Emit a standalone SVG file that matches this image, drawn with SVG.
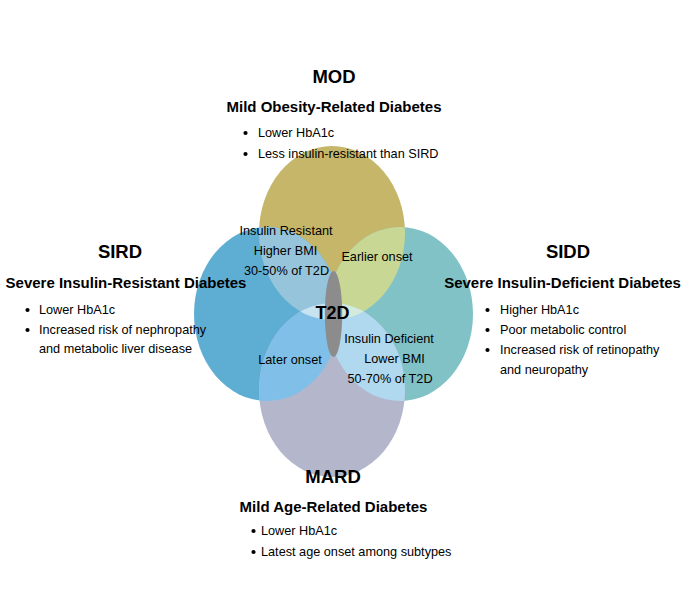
<svg xmlns="http://www.w3.org/2000/svg" width="690" height="598" viewBox="0 0 690 598">
<style>
text{font-family:"Liberation Sans",Arial,sans-serif;fill:#000}
.t{font-size:18.5px;font-weight:bold;text-anchor:middle}
.s{font-size:15px;font-weight:bold;text-anchor:middle}
.b{font-size:12.7px}
.l{font-size:12.7px;text-anchor:middle}
.c{font-size:18px;font-weight:bold;text-anchor:middle}
.dot{fill:#000}
</style>
<defs>
<clipPath id="cMOD"><ellipse cx="332" cy="233" rx="73" ry="87"/></clipPath>
<clipPath id="cSIRD"><ellipse cx="267" cy="314" rx="73" ry="87"/></clipPath>
<clipPath id="cSIDD"><ellipse cx="400" cy="314" rx="73" ry="87"/></clipPath>
<clipPath id="cMARD"><ellipse cx="332" cy="390" rx="73" ry="87"/></clipPath>
</defs>
<rect width="690" height="598" fill="#fff"/>
<g id="MOD">
<ellipse cx="332" cy="233" rx="73" ry="87" fill="#c6b66a"/>
<text class="t" x="334" y="83">MOD</text>
<text class="s" x="334" y="112">Mild Obesity-Related Diabetes</text>
<circle class="dot" cx="245.5" cy="133" r="2.1"/>
<text class="b" x="258" y="137">Lower HbA1c</text>
<circle class="dot" cx="245.5" cy="154" r="2.1"/>
<text class="b" x="258" y="158">Less insulin-resistant than SIRD</text>
</g>
<g id="SIRD">
<ellipse cx="267" cy="314" rx="73" ry="87" fill="#5eaed4"/>
<text class="t" x="120" y="258">SIRD</text>
<text class="s" x="126" y="288">Severe Insulin-Resistant Diabetes</text>
<circle class="dot" cx="27.5" cy="310" r="2.1"/>
<text class="b" x="39" y="314">Lower HbA1c</text>
<circle class="dot" cx="27.5" cy="330" r="2.1"/>
<text class="b" x="39" y="334">Increased risk of nephropathy</text>
<text class="b" x="39" y="353">and metabolic liver disease</text>
</g>
<g id="SIDD">
<ellipse cx="400" cy="314" rx="73" ry="87" fill="#80c2c6"/>
<text class="t" x="568" y="258">SIDD</text>
<text class="s" x="562.5" y="288">Severe Insulin-Deficient Diabetes</text>
<circle class="dot" cx="487.5" cy="310" r="2.1"/>
<text class="b" x="500" y="314">Higher HbA1c</text>
<circle class="dot" cx="487.5" cy="330" r="2.1"/>
<text class="b" x="500" y="334">Poor metabolic control</text>
<circle class="dot" cx="487.5" cy="350" r="2.1"/>
<text class="b" x="500" y="354">Increased risk of retinopathy</text>
<text class="b" x="500" y="374">and neuropathy</text>
</g>
<g id="MARD">
<ellipse cx="332" cy="390" rx="73" ry="87" fill="#b4b6cc"/>
<text class="t" x="333" y="483">MARD</text>
<text class="s" x="333.5" y="512">Mild Age-Related Diabetes</text>
<circle class="dot" cx="253.5" cy="531" r="2.1"/>
<text class="b" x="261" y="535">Lower HbA1c</text>
<circle class="dot" cx="253.5" cy="552" r="2.1"/>
<text class="b" x="261" y="556">Latest age onset among subtypes</text>
</g>
<g id="overlaps">
<g clip-path="url(#cMOD)"><ellipse cx="267" cy="314" rx="73" ry="87" fill="#96c4da"/></g>
<g clip-path="url(#cMOD)"><ellipse cx="400" cy="314" rx="73" ry="87" fill="#c8d894"/></g>
<g clip-path="url(#cMARD)"><ellipse cx="267" cy="314" rx="73" ry="87" fill="#80c0e8"/></g>
<g clip-path="url(#cMARD)"><ellipse cx="400" cy="314" rx="73" ry="87" fill="#b0d8ee"/></g>
<g clip-path="url(#cMOD)"><g clip-path="url(#cMARD)"><ellipse cx="267" cy="314" rx="73" ry="87" fill="#c8e3f0"/></g></g>
<g clip-path="url(#cMOD)"><g clip-path="url(#cMARD)"><ellipse cx="400" cy="314" rx="73" ry="87" fill="#d4eadc"/></g></g>
</g>
<g id="T2D">
<ellipse cx="333.5" cy="314" rx="8.7" ry="43" fill="#8c8c8c"/>
<text class="c" x="332.5" y="319">T2D</text>
</g>
<g id="region-labels">
<text class="l" x="286" y="235">Insulin Resistant</text>
<text class="l" x="285.5" y="255">Higher BMI</text>
<text class="l" x="286.5" y="275">30-50% of T2D</text>
<text class="l" x="377" y="261">Earlier onset</text>
<text class="l" x="290" y="364">Later onset</text>
<text class="l" x="389" y="343">Insulin Deficient</text>
<text class="l" x="394.5" y="363">Lower BMI</text>
<text class="l" x="390" y="383">50-70% of T2D</text>
</g>
</svg>
